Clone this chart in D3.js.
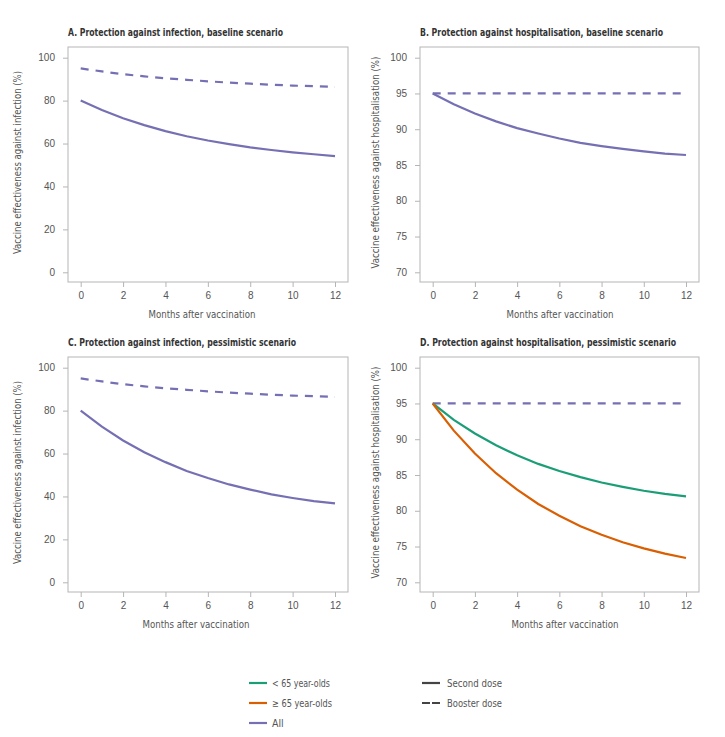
<!DOCTYPE html>
<html>
<head>
<meta charset="utf-8">
<script src="https://cdn.jsdelivr.net/npm/d3@7"></script>
<style>
  html, body { margin: 0; padding: 0; background: #fff; }
  svg { display: block; font-family: "DejaVu Sans Condensed", "Roboto", sans-serif; }
</style>
</head>
<body>
<svg id="chart" width="725" height="737"></svg>
<script>
// ---------- data ----------
const months = [0,1,2,3,4,5,6,7,8,9,10,11,12];
const monthTicks = [0,2,4,6,8,10,12];
const infTicks = [0,20,40,60,80,100];
const hospTicks = [70,75,80,85,90,95,100];

const aSecond  = [80, 75.6, 71.8, 68.6, 65.8, 63.4, 61.4, 59.7, 58.2, 57.0, 55.9, 55.0, 54.1];
const aBooster = [95, 93.6, 92.3, 91.3, 90.4, 89.7, 89.0, 88.4, 87.9, 87.4, 87.0, 86.7, 86.4];
const bSecond  = [95, 93.5, 92.2, 91.1, 90.15, 89.4, 88.7, 88.1, 87.65, 87.25, 86.9, 86.6, 86.4];
const bBooster = [95, 95, 95, 95, 95, 95, 95, 95, 95, 95, 95, 95, 95];
const cSecond  = [80, 72.5, 66.1, 60.6, 56.0, 51.9, 48.6, 45.6, 43.2, 41.0, 39.3, 37.8, 36.8];
const cBooster = [95, 93.6, 92.3, 91.3, 90.4, 89.7, 89.0, 88.4, 87.9, 87.4, 87.0, 86.7, 86.4];
const dUnder65 = [95, 92.7, 90.8, 89.15, 87.75, 86.55, 85.55, 84.7, 83.95, 83.35, 82.8, 82.35, 82.0];
const dOver65  = [95, 91.2, 88.0, 85.25, 82.95, 80.95, 79.3, 77.85, 76.65, 75.6, 74.75, 74.0, 73.4];
const dBooster = [95, 95, 95, 95, 95, 95, 95, 95, 95, 95, 95, 95, 95];

const titles = [
  "A. Protection against infection, baseline scenario",
  "B. Protection against hospitalisation, baseline scenario",
  "C. Protection against infection, pessimistic scenario",
  "D. Protection against hospitalisation, pessimistic scenario"
];
const yLabels = [
  "Vaccine effectiveness against infection (%)",
  "Vaccine effectiveness against hospitalisation (%)",
  "Vaccine effectiveness against infection (%)",
  "Vaccine effectiveness against hospitalisation (%)"
];
const xLabel = "Months after vaccination";
const legendGroups = ["< 65 year-olds", "\u2265 65 year-olds", "All"];
const legendDoses = ["Second dose", "Booster dose"];

// ---------- style / layout ----------
const colors = { under: "#1b9e77", over: "#d95f02", all: "#7570b3" };
const dash = "8,7";

const panels = [
  { x0: 68,  x1: 348, y0: 47,  y1: 282, domain: [0,100], ticks: infTicks, tw: 215, ylw: 183,
    series: [{v: aBooster, c: colors.all, d: true}, {v: aSecond, c: colors.all}], xl: 202, yl: 17 },
  { x0: 420, x1: 699, y0: 47,  y1: 282, domain: [70,100], ticks: hospTicks, tw: 243, ylw: 212,
    series: [{v: bBooster, c: colors.all, d: true}, {v: bSecond, c: colors.all}], xl: 560, yl: 375 },
  { x0: 68,  x1: 348, y0: 357, y1: 592, domain: [0,100], ticks: infTicks, tw: 228, ylw: 183,
    series: [{v: cBooster, c: colors.all, d: true}, {v: cSecond, c: colors.all}], xl: 196, yl: 17 },
  { x0: 420, x1: 699, y0: 357, y1: 592, domain: [70,100], ticks: hospTicks, tw: 256, ylw: 212,
    series: [{v: dBooster, c: colors.all, d: true}, {v: dUnder65, c: colors.under}, {v: dOver65, c: colors.over}], xl: 565, yl: 375 }
];

const svg = d3.select("#chart");
const axisColor = "#b5b5b5";
const textColor = "#555";

panels.forEach((p, i) => {
  const g = svg.append("g");
  const x = d3.scaleLinear().domain([0, 12]).range([p.x0 + 12.7, p.x1 - 13]);
  const y = d3.scaleLinear().domain(p.domain).range([p.y1 - 9.7, p.y0 + 10.7]);

  // frame
  g.append("rect").attr("x", p.x0).attr("y", p.y0)
    .attr("width", p.x1 - p.x0).attr("height", p.y1 - p.y0)
    .attr("fill", "none").attr("stroke", axisColor).attr("stroke-width", 1);

  // y axis
  const ya = g.append("g").attr("transform", `translate(${p.x0},0)`)
    .call(d3.axisLeft(y).tickValues(p.ticks).tickSize(5).tickPadding(8).tickFormat(d3.format("d")));
  ya.select(".domain").remove();
  ya.selectAll("line").attr("stroke", axisColor);
  ya.selectAll("text").attr("fill", textColor).attr("font-size", 10);

  // x axis
  const xa = g.append("g").attr("transform", `translate(0,${p.y1})`)
    .call(d3.axisBottom(x).tickValues(monthTicks).tickSize(5).tickPadding(5).tickFormat(d3.format("d")));
  xa.select(".domain").remove();
  xa.selectAll("line").attr("stroke", axisColor);
  xa.selectAll("text").attr("fill", textColor).attr("font-size", 10);

  // title
  g.append("text").attr("x", p.x0).attr("y", p.y0 - 11)
    .attr("font-size", 10).attr("font-weight", "bold").attr("fill", "#333")
    .attr("textLength", p.tw).attr("lengthAdjust", "spacingAndGlyphs")
    .text(titles[i]);

  // axis labels
  g.append("text").attr("x", p.xl).attr("y", p.y1 + 36)
    .attr("text-anchor", "middle").attr("font-size", 10.5).attr("fill", textColor)
    .attr("textLength", 107).attr("lengthAdjust", "spacingAndGlyphs")
    .text(xLabel);
  g.append("text")
    .attr("transform", `translate(${p.yl + 4},${(p.y0 + p.y1) / 2 - 2}) rotate(-90)`)
    .attr("text-anchor", "middle").attr("font-size", 10.5).attr("fill", textColor)
    .attr("textLength", p.ylw).attr("lengthAdjust", "spacingAndGlyphs")
    .text(yLabels[i]);

  // lines
  const line = d3.line().x((d, j) => x(months[j])).y(d => y(d));
  p.series.forEach(s => {
    g.append("path").datum(s.v).attr("d", line)
      .attr("fill", "none").attr("stroke", s.c).attr("stroke-width", 2.2)
      .attr("stroke-dasharray", s.d ? dash : null);
  });
});

// ---------- legend ----------
const lg = svg.append("g");
const groupColors = [colors.under, colors.over, colors.all];
const groupW = [58, 60, null];
legendGroups.forEach((t, i) => {
  const yy = 683 + i * 20;
  lg.append("line").attr("x1", 249).attr("x2", 267).attr("y1", yy).attr("y2", yy)
    .attr("stroke", groupColors[i]).attr("stroke-width", 2.2);
  const tx = lg.append("text").attr("x", 272).attr("y", yy + 4).attr("font-size", 10.5).attr("fill", textColor).text(t);
  if (groupW[i]) tx.attr("textLength", groupW[i]).attr("lengthAdjust", "spacingAndGlyphs");
});
legendDoses.forEach((t, i) => {
  const yy = 683 + i * 20;
  lg.append("line").attr("x1", 422).attr("x2", 440).attr("y1", yy).attr("y2", yy)
    .attr("stroke", "#444").attr("stroke-width", 2.2)
    .attr("stroke-dasharray", i === 1 ? "8,2" : null);
  lg.append("text").attr("x", 447).attr("y", yy + 4).attr("font-size", 10.5).attr("fill", textColor)
    .attr("textLength", 55).attr("lengthAdjust", "spacingAndGlyphs").text(t);
});
</script>
</body>
</html>
